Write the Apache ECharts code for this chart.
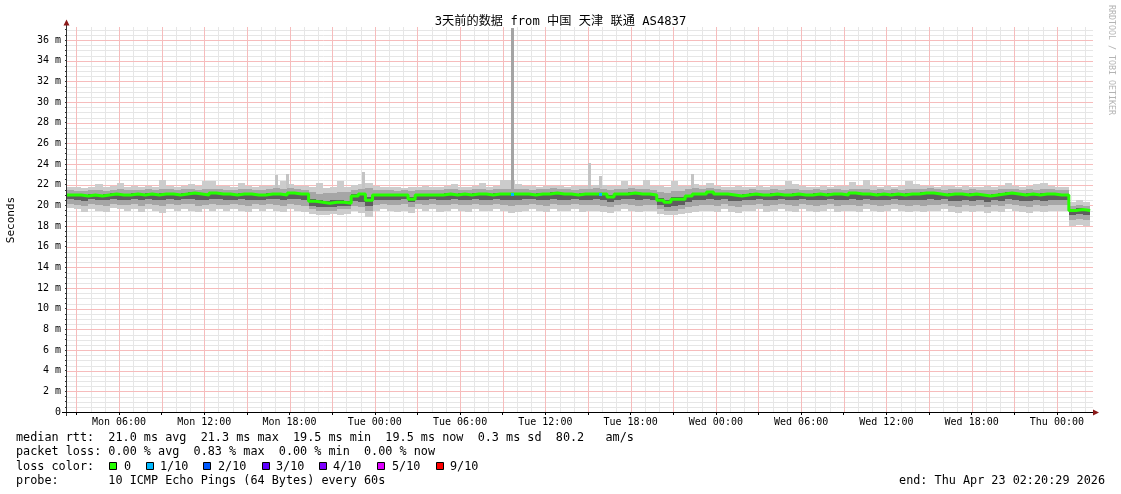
<!DOCTYPE html>
<html><head><meta charset="utf-8">
<script src="https://cdn.jsdelivr.net/npm/echarts@6/dist/echarts.min.js"></script>
<style>html,body{margin:0;padding:0;background:#fff}#c{width:1121px;height:494px}</style>
</head><body><div id="c"></div><script>
// time axis in hours since Mon 00:00; first sample Mon 02:20:29, one sample every 30 min
const startHour = 2.34;
const stepHours = 0.5;
const axisMaxHour = 74.54;
const yMax = 37.26;

// median RTT (ms)
const median = [
21.0,21.0,20.9,21.0,20.9,21.0,21.1,21.0,21.0,21.1,
21.0,21.1,21.0,21.1,21.1,21.0,21.1,21.2,21.1,21.0,
21.2,21.1,21.1,21.0,21.1,21.1,21.0,21.0,21.1,21.1,
21.0,21.2,21.1,21.1,20.4,20.3,20.2,20.3,20.3,20.2,
20.9,21.1,20.5,21.0,21.0,21.0,21.0,21.0,20.6,21.0,
21.0,21.0,21.0,21.1,21.0,21.1,21.0,21.1,21.1,21.0,
21.1,21.1,21.1,21.1,21.1,21.0,21.1,21.1,21.2,21.1,
21.1,21.0,21.1,21.1,21.1,21.1,20.8,21.1,21.1,21.2,
21.1,21.1,21.0,20.5,20.3,20.6,20.6,20.9,21.1,21.1,
21.3,21.1,21.1,21.0,20.9,21.0,21.1,21.0,21.0,21.1,
21.0,21.0,21.1,21.0,21.0,21.1,21.0,21.1,21.1,21.0,
21.2,21.1,21.1,21.0,21.1,21.0,21.1,21.0,21.1,21.1,
21.2,21.2,21.1,21.0,21.1,21.1,21.0,21.1,21.0,20.9,
21.0,21.1,21.2,21.1,21.0,21.1,21.0,21.1,21.1,21.0,
21.0,19.5,19.6,19.5,19.5];

// smoke: slowest ping
const pingMax = [
21.8,21.8,21.7,21.8,22.1,21.8,21.9,22.2,21.8,21.9,
21.8,21.9,21.8,22.5,21.9,21.8,21.9,22.1,21.9,22.4,
22.4,21.9,21.9,21.8,22.2,21.9,21.8,21.9,21.9,22.0,
22.4,22.1,21.9,21.9,21.8,22.2,21.7,21.8,22.4,21.8,
22.0,22.1,22.2,21.9,21.8,21.8,21.8,21.7,21.8,21.8,
21.9,21.8,21.8,21.9,22.1,21.8,21.8,21.9,22.2,21.8,
21.9,22.5,22.5,22.1,21.9,21.9,21.8,21.9,21.9,21.9,
21.8,21.9,21.9,21.9,22.0,22.0,21.9,21.9,22.4,21.9,
21.9,22.5,21.9,21.9,21.8,22.4,21.9,21.9,22.1,21.9,
22.2,21.9,21.8,21.8,21.9,21.8,21.8,21.9,21.8,21.9,
21.9,22.4,22.1,21.9,21.8,21.8,21.9,21.8,21.9,21.9,
22.3,21.9,22.5,21.9,21.8,21.9,21.8,21.9,22.4,22.1,
21.9,21.9,21.8,21.9,21.9,21.8,21.9,21.8,21.8,21.9,
21.8,21.9,22.2,21.9,21.8,21.9,22.1,22.2,21.9,21.8,
21.8,20.3,20.5,20.3,20.3];

// smoke: fastest ping
const pingMin = [
19.7,19.6,19.4,19.6,19.5,19.4,19.7,19.6,19.5,19.6,
19.4,19.6,19.5,19.3,19.6,19.5,19.6,19.5,19.4,19.6,
19.5,19.6,19.5,19.6,19.5,19.4,19.6,19.5,19.6,19.5,
19.4,19.6,19.5,19.4,19.2,19.1,19.1,19.2,19.1,19.2,
19.5,19.3,18.9,19.5,19.6,19.5,19.4,19.5,19.3,19.6,
19.5,19.6,19.4,19.5,19.6,19.5,19.4,19.6,19.5,19.5,
19.6,19.5,19.3,19.4,19.5,19.6,19.5,19.4,19.6,19.5,
19.5,19.6,19.4,19.5,19.5,19.4,19.3,19.5,19.6,19.5,
19.4,19.5,19.5,19.2,19.1,19.1,19.2,19.3,19.4,19.5,
19.5,19.4,19.6,19.4,19.3,19.5,19.5,19.6,19.4,19.5,
19.6,19.5,19.4,19.6,19.5,19.4,19.5,19.6,19.4,19.5,
19.5,19.4,19.6,19.5,19.4,19.5,19.6,19.5,19.4,19.5,
19.4,19.5,19.5,19.6,19.4,19.3,19.5,19.4,19.5,19.3,
19.5,19.4,19.6,19.5,19.4,19.3,19.5,19.4,19.5,19.5,
19.5,18.0,18.1,18.0,18.2];

// smoke: 2nd slowest / 2nd fastest
const pingHi2 = [
21.5,21.4,21.4,21.5,21.5,21.4,21.5,21.6,21.5,21.5,
21.5,21.6,21.5,21.6,21.6,21.5,21.6,21.6,21.5,21.6,
21.6,21.6,21.5,21.5,21.6,21.6,21.5,21.5,21.6,21.7,
21.6,21.7,21.6,21.5,21.3,21.1,21.2,21.2,21.3,21.3,
21.5,21.6,21.7,21.5,21.5,21.5,21.4,21.5,21.4,21.5,
21.5,21.5,21.5,21.6,21.6,21.5,21.5,21.6,21.6,21.5,
21.6,21.6,21.6,21.6,21.6,21.5,21.6,21.6,21.7,21.6,
21.6,21.5,21.6,21.6,21.7,21.6,21.5,21.6,21.6,21.7,
21.6,21.6,21.5,21.3,21.2,21.4,21.4,21.6,21.7,21.6,
21.7,21.6,21.5,21.5,21.5,21.5,21.6,21.5,21.5,21.6,
21.5,21.6,21.6,21.5,21.5,21.6,21.5,21.6,21.6,21.5,
21.6,21.6,21.6,21.5,21.6,21.5,21.6,21.5,21.6,21.6,
21.6,21.7,21.6,21.5,21.6,21.6,21.5,21.6,21.5,21.5,
21.5,21.6,21.6,21.6,21.5,21.6,21.5,21.6,21.6,21.5,
21.5,19.9,20.0,19.9,19.9];
const pingLo2 = [
20.1,20.0,19.9,20.1,20.0,19.9,20.1,20.0,20.0,20.1,
19.9,20.1,20.0,19.9,20.1,20.0,20.1,20.1,19.9,20.0,
20.1,20.0,20.0,20.1,20.0,19.9,20.1,20.0,20.1,20.0,
19.9,20.1,20.0,19.9,19.6,19.5,19.5,19.5,19.6,19.6,
19.9,19.8,19.5,20.0,20.1,20.0,20.0,20.1,19.8,20.1,
20.0,20.1,20.0,20.0,20.1,20.0,20.0,20.1,20.0,20.0,
20.1,20.0,19.9,20.0,20.0,20.1,20.0,19.9,20.1,20.0,
20.0,20.1,20.0,20.0,20.0,19.9,19.8,20.0,20.1,20.0,
19.9,20.0,20.0,19.6,19.5,19.5,19.6,19.8,19.9,20.0,
20.0,19.9,20.1,19.9,19.8,20.0,20.0,20.1,19.9,20.0,
20.1,20.0,19.9,20.1,20.0,19.9,20.0,20.1,19.9,20.0,
20.0,19.9,20.1,20.0,19.9,20.0,20.1,20.0,19.9,20.0,
19.9,20.0,20.0,20.1,19.9,19.8,20.0,19.9,20.0,19.8,
20.0,19.9,20.1,20.0,19.9,19.8,20.0,19.9,20.0,20.0,
20.0,18.6,18.7,18.6,18.7];

// smoke: inner (darkest) pings
const pingHi3 = [
21.1,21.1,21.0,21.1,21.0,21.1,21.2,21.1,21.1,21.2,
21.1,21.2,21.1,21.2,21.2,21.1,21.2,21.3,21.2,21.1,
21.3,21.2,21.2,21.1,21.2,21.2,21.1,21.1,21.2,21.2,
21.1,21.3,21.2,21.2,20.6,20.5,20.4,20.5,20.5,20.4,
21.1,21.2,20.8,21.1,21.1,21.1,21.1,21.1,20.8,21.1,
21.1,21.1,21.1,21.2,21.1,21.2,21.1,21.2,21.2,21.1,
21.2,21.2,21.2,21.2,21.2,21.1,21.2,21.2,21.3,21.2,
21.2,21.1,21.2,21.2,21.2,21.2,21.0,21.2,21.2,21.3,
21.2,21.2,21.1,20.7,20.5,20.8,20.8,21.0,21.2,21.2,
21.4,21.2,21.2,21.1,21.0,21.1,21.2,21.1,21.1,21.2,
21.1,21.1,21.2,21.1,21.1,21.2,21.1,21.2,21.2,21.1,
21.3,21.2,21.2,21.1,21.2,21.1,21.2,21.1,21.2,21.2,
21.3,21.3,21.2,21.1,21.2,21.2,21.1,21.2,21.1,21.0,
21.1,21.2,21.3,21.2,21.1,21.2,21.1,21.2,21.2,21.1,
21.1,19.6,19.7,19.6,19.6];
const pingLo3 = [
20.6,20.5,20.4,20.6,20.5,20.5,20.6,20.5,20.5,20.6,
20.5,20.6,20.5,20.5,20.6,20.5,20.6,20.6,20.5,20.5,
20.6,20.6,20.5,20.5,20.6,20.5,20.5,20.5,20.6,20.6,
20.5,20.6,20.6,20.5,19.9,19.8,19.8,19.8,19.9,19.9,
20.4,20.3,19.9,20.5,20.5,20.5,20.5,20.6,20.3,20.5,
20.5,20.6,20.5,20.5,20.6,20.5,20.5,20.6,20.5,20.5,
20.6,20.5,20.5,20.5,20.6,20.6,20.5,20.5,20.6,20.5,
20.5,20.6,20.5,20.5,20.6,20.5,20.3,20.5,20.6,20.6,
20.5,20.6,20.5,20.0,19.8,19.9,20.0,20.3,20.5,20.5,
20.6,20.5,20.6,20.4,20.4,20.5,20.5,20.6,20.5,20.5,
20.6,20.5,20.5,20.6,20.5,20.5,20.5,20.6,20.5,20.5,
20.6,20.5,20.6,20.5,20.5,20.5,20.6,20.5,20.5,20.5,
20.5,20.6,20.5,20.6,20.4,20.4,20.5,20.4,20.5,20.3,
20.5,20.4,20.6,20.5,20.4,20.4,20.5,20.4,20.5,20.5,
20.5,19.1,19.2,19.1,19.2];

// narrow outlier spikes (hour, top ms)
const spikeHours = [17.05, 17.82, 23.17, 33.69, 39.07, 39.85, 46.32];
const spikeTops  = [22.9, 23.0, 23.2, 37.2, 24.1, 22.8, 23.0];
const spikeBase = 21.6;

// packet-loss markers on the median (hour, median ms, loss level index)
const lossHours = [33.69, 39.85];
const lossValues = [21.1, 21.1];
const lossLevels = [1, 1];

const lossLegendLabels = ['0', '1/10', '2/10', '3/10', '4/10', '5/10', '9/10'];
const lossLegendColors = ['#26ff00', '#00b8ff', '#0059ff', '#5e00ff', '#7e00ff', '#dd00ff', '#ff0000'];

const yLabelValues = [0,2,4,6,8,10,12,14,16,18,20,22,24,26,28,30,32,34,36];
const xLabelHours = [6,12,18,24,30,36,42,48,54,60,66,72];
const dayNames = ['Mon','Tue','Wed','Thu'];

const statsLines = [
  'median rtt:  21.0 ms avg  21.3 ms max  19.5 ms min  19.5 ms now  0.3 ms sd  80.2   am/s',
  'packet loss: 0.00 % avg  0.83 % max  0.00 % min  0.00 % now'
];
const probeLine = 'probe:       10 ICMP Echo Pings (64 Bytes) every 60s';
const endLine = 'end: Thu Apr 23 02:20:29 2026';
const titleText = '3天前的数据 from 中国 天津 联通 AS4837';

// ---------- build ----------
const times = median.map((_, i) => +(startHour + i * stepHours).toFixed(3));
const lastTime = times[times.length - 1];
const smokeRows = times.map((t, i) => [t, pingMin[i], pingLo2[i], pingLo3[i], pingHi3[i], pingHi2[i], pingMax[i]]);

const yMinorGrid = [], yMajorGrid = [];
for (let v = 0.5; v <= 37.01; v += 0.5) { if (Math.abs(v % 2) < 1e-6) yMajorGrid.push(v); else yMinorGrid.push(v); }
const xMinorGrid = [], xMajorGrid = [];
for (let h = 3; h <= 74; h += 1) { if (h % 3 === 0) xMajorGrid.push(h); else xMinorGrid.push(h); }
const yTickValues = [0, ...yMinorGrid, ...yMajorGrid].sort((a,b)=>a-b);

const mono = '"DejaVu Sans Mono", monospace';
const smokeColors = ['#cccccc', '#a6a6a6', '#5e5e5e', '#a6a6a6', '#cccccc'];

function smokeRender(params, api) {
  const t = api.value(0);
  const xa = Math.round(api.coord([t, 0])[0]);
  const xb = Math.round(api.coord([Math.min(t + stepHours, lastTime), 0])[0]);
  if (xb - xa <= 0) return null;
  const ch = [];
  for (let b = 0; b < 5; b++) {
    const ya = Math.round(api.coord([t, api.value(b + 1)])[1]);
    const yb = Math.round(api.coord([t, api.value(b + 2)])[1]);
    if (ya - yb <= 0) continue;
    ch.push({type:'rect', shape:{x: xa, y: yb, width: xb - xa, height: ya - yb}, style:{fill: smokeColors[b]}});
  }
  return {type:'group', children: ch};
}
function spikeRender(params, api) {
  const top = api.coord([api.value(0), api.value(1)]);
  const bot = api.coord([api.value(0), spikeBase]);
  const big = api.value(1) > 30;
  return {type:'rect', shape:{x: Math.round(top[0]) - 1, y: Math.round(top[1]), width: 3, height: Math.round(bot[1] - top[1])},
    style:{fill: big ? '#a4a4a4' : '#c4c4c4'}};
}
function lossRender(params, api) {
  const p = api.coord([api.value(0), api.value(1)]);
  return {type:'rect', shape:{x: Math.round(p[0]) - 1, y: Math.round(p[1]) - 1, width: 3, height: 3},
    style:{fill: lossLegendColors[api.value(2)]}};
}

const series = [
  {type:'custom', renderItem: smokeRender, data: smokeRows, z:2, silent:true, encode:{x:0, y:[1,2,3,4,5,6]}},
  {type:'custom', renderItem: spikeRender, data: spikeHours.map((h,i)=>[h, spikeTops[i]]), z:3, silent:true},
  {type:'line', step:'end', symbol:'none', silent:true, z:5, data: median.map((v,i)=>[times[i], v]),
    lineStyle:{color:'#26ff00', width:3}},
  {type:'custom', renderItem: lossRender, data: lossHours.map((h,i)=>[h, lossValues[i], lossLevels[i]]), z:6, silent:true}
];

const graphics = [];
const txt = (x, y, text, opt) => graphics.push(Object.assign({type:'text', x, y, silent:true, z:10,
  style: Object.assign({text, fill:'#000', font:'11.8px ' + mono, align:'left', verticalAlign:'middle'}, (opt||{}).style || {})},
  opt && opt.rotation !== undefined ? {rotation: opt.rotation} : {}));
txt(560.5, 21.5, titleText, {style:{font:'12.2px "DejaVu Sans Mono", "Noto Sans CJK SC"', align:'center'}});
txt(11, 220, 'Seconds', {rotation: Math.PI/2, style:{font:'11px ' + mono, align:'center'}});
txt(1111, 5, 'RRDTOOL / TOBI OETIKER', {rotation: -Math.PI/2, style:{font:'8.3px ' + mono, fill:'#b4b4b4'}});
txt(16, 438, statsLines[0]);
txt(16, 452, statsLines[1]);
txt(16, 466.5, 'loss color:');
const boxX = [109, 146, 203, 262, 319, 377, 436];
const labX = [124, 160, 218, 276, 333, 392, 450];
lossLegendLabels.forEach((l, i) => {
  graphics.push({type:'rect', silent:true, z:10, shape:{x: boxX[i] + 0.5, y: 462.5, width: 7, height: 7},
    style:{fill: lossLegendColors[i], stroke:'#000', lineWidth:1}});
  txt(labX[i], 466.5, l);
});
txt(16, 480.5, probeLine);
txt(1105, 480.5, endLine, {style:{align:'right'}});
// axis lines with arrow heads
graphics.push({type:'line', silent:true, z:10, shape:{x1:66.5, y1:416, x2:66.5, y2:24}, style:{stroke:'#333', lineWidth:1}});
graphics.push({type:'line', silent:true, z:10, shape:{x1:62, y1:412.5, x2:1094, y2:412.5}, style:{stroke:'#000', lineWidth:1}});
graphics.push({type:'polygon', silent:true, z:10, shape:{points:[[63.5,25.5],[69.5,25.5],[66.5,19.5]]}, style:{fill:'#8b1a1a'}});
graphics.push({type:'polygon', silent:true, z:10, shape:{points:[[1093,409.5],[1093,415.5],[1099,412.5]]}, style:{fill:'#8b1a1a'}});

const chart = echarts.init(document.getElementById('c'), null, {renderer:'canvas'});
const option = {
  animation: false,
  backgroundColor: '#fff',
  grid: {left: 67, right: 28, top: 27, bottom: 82, containLabel: false},
  xAxis: {type:'value', min: startHour, max: axisMaxHour,
    axisLine:{show:false}, splitLine:{show:false},
    axisTick:{show:true, customValues: xMajorGrid, length:3, lineStyle:{color:'#000'}},
    axisLabel:{customValues: xLabelHours, margin:5, color:'#000', fontFamily:'DejaVu Sans Mono', fontSize:10,
      formatter: v => { const d = Math.floor(v/24), hh = Math.round(v - d*24); return dayNames[d] + ' ' + String(hh).padStart(2,'0') + ':00'; }}},
  yAxis: {type:'value', min: 0, max: yMax,
    axisLine:{show:false}, splitLine:{show:false},
    axisTick:{show:true, customValues: yTickValues, length:2, lineStyle:{color:'#333'}},
    axisLabel:{customValues: yLabelValues, margin:6, color:'#000', fontFamily:'DejaVu Sans Mono', fontSize:10,
      formatter: v => v === 0 ? '0' : v + ' m'}},
  series
};
chart.setOption(option);

// grid lines positioned through the chart's own scales
const px = (h, v) => chart.convertToPixel({gridIndex: 0}, [h, v]);
const gx0 = px(startHour, 0)[0], gx1 = px(axisMaxHour, 0)[0];
const gy0 = px(startHour, yMax)[1], gy1 = px(startHour, 0)[1];
const gridLines = [];
const hl = (v, col) => { const y = Math.round(px(startHour, v)[1]) + 0.5;
  gridLines.push({type:'line', silent:true, z:0, shape:{x1:gx0, y1:y, x2:gx1, y2:y}, style:{stroke:col, lineWidth:1}}); };
const vl = (h, col) => { const x = Math.round(px(h, 0)[0]) + 0.5;
  gridLines.push({type:'line', silent:true, z:0, shape:{x1:x, y1:gy0, x2:x, y2:gy1}, style:{stroke:col, lineWidth:1}}); };
yMinorGrid.forEach(v => hl(v, '#e6e6e6'));
xMinorGrid.forEach(h => vl(h, '#e6e6e6'));
yMajorGrid.forEach(v => hl(v, '#f6bcbc'));
xMajorGrid.forEach(h => vl(h, '#f6bcbc'));
chart.setOption({graphic: gridLines.concat(graphics)});
</script></body></html>
